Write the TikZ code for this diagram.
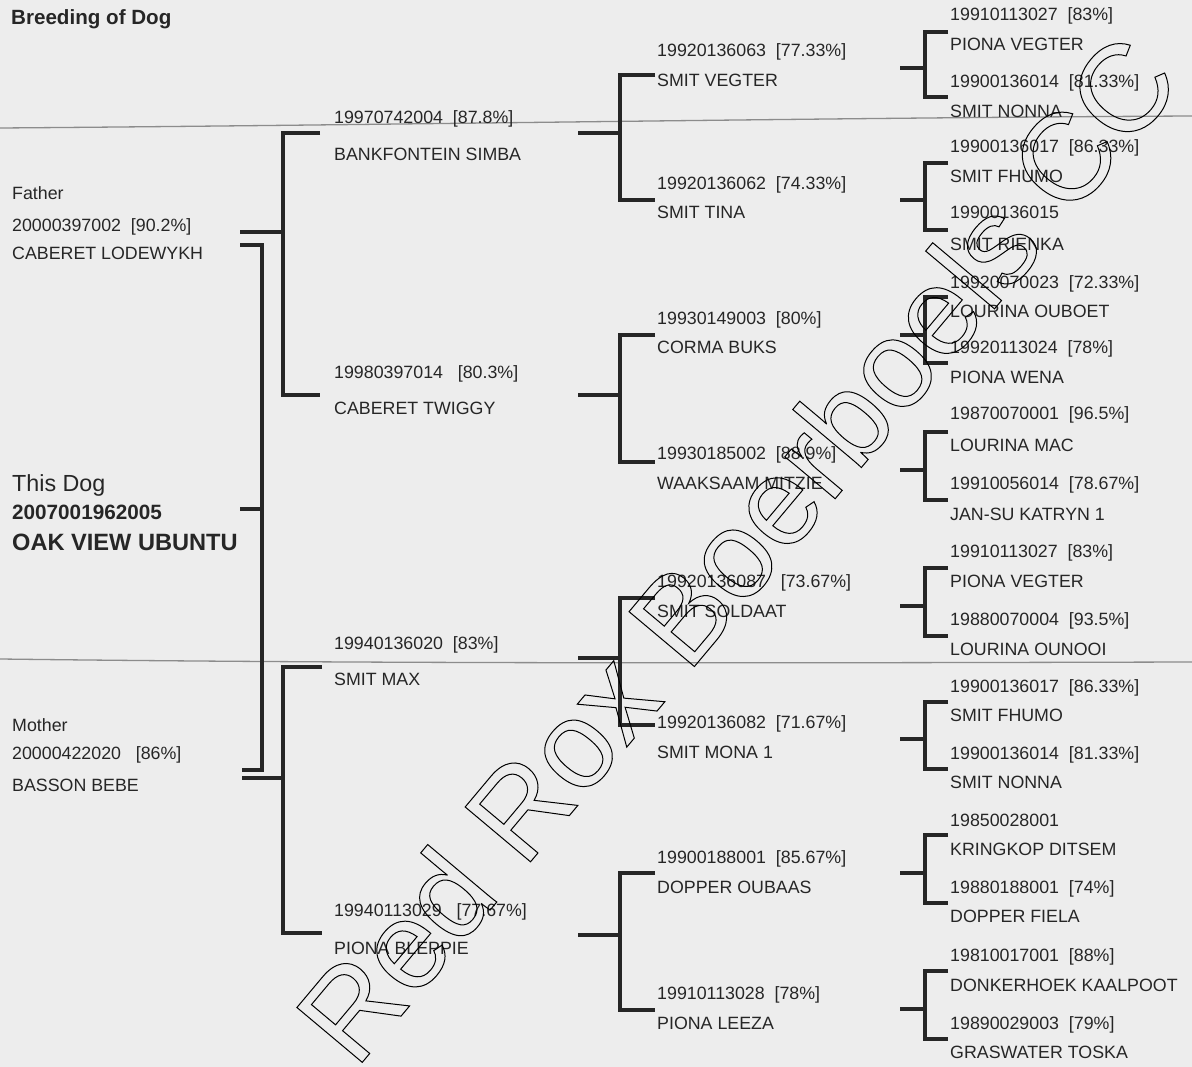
\documentclass[tikz,border=0pt]{standalone}
\usepackage{fontspec}
\setmainfont{Liberation Sans}
\definecolor{ink}{HTML}{262626}
\definecolor{paper}{HTML}{EDEDED}
\definecolor{fold}{HTML}{8C8C8C}
% outlined letters for the stamp across the sheet
\newcommand{\hollow}[1]{\special{pdf:literal direct 1 Tr 1 w}#1\special{pdf:literal direct 0 Tr}}

\begin{document}
\begin{tikzpicture}[x=1pt,y=-1pt,
  brk/.style={draw=ink,line width=3.8pt},
  txt/.style={anchor=base west,inner sep=0pt,text=ink,font=\fontsize{17.8}{20}\selectfont},
  ttl/.style={txt,font=\fontsize{20.6}{22}\selectfont\bfseries},
  dogname/.style={txt,font=\fontsize{23.3}{26}\selectfont},
  dognum/.style={txt,font=\fontsize{20.7}{23}\selectfont\bfseries},
  dogbig/.style={txt,font=\fontsize{23.6}{26}\selectfont\bfseries},
  wmark/.style={inner sep=0pt,text=black,font=\fontsize{124}{126}\selectfont},
  foldline/.style={draw=fold,line width=1.3pt}]
\fill[paper] (0,0) rectangle (1192,1067);
\useasboundingbox (0,0) rectangle (1192,1067);
\draw[foldline] (0,128) .. controls (400,125) and (800,118) .. (1192,116);
\draw[foldline] (0,659) .. controls (400,664) and (800,663) .. (1192,662);

\node[ttl] (title) at (11,25) {Breeding of Dog};

% first column
\node[txt] (fatherlbl) at (12,200) {Father};
\node[txt] (fathernum) at (12,232) {20000397002\ \ [90.2\%]};
\node[txt] (father) at (12,260) {CABERET LODEWYKH};
\node[dogname] (dogbl) at (12,491) {This Dog};
\node[dognum] (dognum) at (12,519) {2007001962005};
\node[dogbig] (dog) at (12,550) {OAK VIEW UBUNTU};
\node[txt] (motherlbl) at (12,731) {Mother};
\node[txt] (mothernum) at (12,759) {20000422020\ \ \ [86\%]};
\node[txt] (mother) at (12,791) {BASSON BEBE};

% second column
\node[txt] (simbanum) at (334,124) {19970742004\ \ [87.8\%]};
\node[txt] (simba) at (334,161) {BANKFONTEIN SIMBA};
\node[txt] (twiggynum) at (334,378) {19980397014\ \ \ [80.3\%]};
\node[txt] (twiggy) at (334,414) {CABERET TWIGGY};
\node[txt] (maxnum) at (334,649) {19940136020\ \ [83\%]};
\node[txt] (max) at (334,685) {SMIT MAX};
\node[txt] (bleppienum) at (334,916) {19940113029\ \ \ [77.67\%]};
\node[txt] (bleppie) at (334,954) {PIONA BLEPPIE};

% third column
\node[txt] (vegternum) at (657,57) {19920136063\ \ [77.33\%]};
\node[txt] (vegter) at (657,87) {SMIT VEGTER};
\node[txt] (tinanum) at (657,190) {19920136062\ \ [74.33\%]};
\node[txt] (tina) at (657,219) {SMIT TINA};
\node[txt] (buksnum) at (657,325) {19930149003\ \ [80\%]};
\node[txt] (buks) at (657,354) {CORMA BUKS};
\node[txt] (mitzienum) at (657,459) {19930185002\ \ [88.9\%]};
\node[txt] (mitzie) at (657,489) {WAAKSAAM MITZIE};
\node[txt] (soldaatnum) at (657,587) {19920136087\ \ \ [73.67\%]};
\node[txt] (soldaat) at (657,617) {SMIT SOLDAAT};
\node[txt] (monanum) at (657,728) {19920136082\ \ [71.67\%]};
\node[txt] (mona) at (657,758) {SMIT MONA 1};
\node[txt] (oubaasnum) at (657,863) {19900188001\ \ [85.67\%]};
\node[txt] (oubaas) at (657,893) {DOPPER OUBAAS};
\node[txt] (leezanum) at (657,999) {19910113028\ \ [78\%]};
\node[txt] (leeza) at (657,1029) {PIONA LEEZA};

% fourth column
\node[txt] (pvegternum) at (950,21) {19910113027\ \ [83\%]};
\node[txt] (pvegter) at (950,51) {PIONA VEGTER};
\node[txt] (nonnanum) at (950,88) {19900136014\ \ [81.33\%]};
\node[txt] (nonna) at (950,118) {SMIT NONNA};
\node[txt] (fhumonum) at (950,153) {19900136017\ \ [86.33\%]};
\node[txt] (fhumo) at (950,183) {SMIT FHUMO};
\node[txt] (rienkanum) at (950,219) {19900136015};
\node[txt] (rienka) at (950,251) {SMIT RIENKA};
\node[txt] (ouboetnum) at (950,289) {19920070023\ \ [72.33\%]};
\node[txt] (ouboet) at (950,318) {LOURINA OUBOET};
\node[txt] (wenanum) at (950,354) {19920113024\ \ [78\%]};
\node[txt] (wena) at (950,384) {PIONA WENA};
\node[txt] (macnum) at (950,419) {19870070001\ \ [96.5\%]};
\node[txt] (mac) at (950,451) {LOURINA MAC};
\node[txt] (katrynnum) at (950,489) {19910056014\ \ [78.67\%]};
\node[txt] (katryn) at (950,520) {JAN-SU KATRYN 1};
\node[txt] (pvegterbnum) at (950,557) {19910113027\ \ [83\%]};
\node[txt] (pvegterb) at (950,587) {PIONA VEGTER};
\node[txt] (ounooinum) at (950,625) {19880070004\ \ [93.5\%]};
\node[txt] (ounooi) at (950,655) {LOURINA OUNOOI};
\node[txt] (fhumobnum) at (950,692) {19900136017\ \ [86.33\%]};
\node[txt] (fhumob) at (950,721) {SMIT FHUMO};
\node[txt] (nonnabnum) at (950,759) {19900136014\ \ [81.33\%]};
\node[txt] (nonnab) at (950,788) {SMIT NONNA};
\node[txt] (ditsemnum) at (950,826) {19850028001};
\node[txt] (ditsem) at (950,855) {KRINGKOP DITSEM};
\node[txt] (fielanum) at (950,893) {19880188001\ \ [74\%]};
\node[txt] (fiela) at (950,922) {DOPPER FIELA};
\node[txt] (kaalpootnum) at (950,961) {19810017001\ \ [88\%]};
\node[txt] (kaalpoot) at (950,991) {DONKERHOEK KAALPOOT};
\node[txt] (toskanum) at (950,1029) {19890029003\ \ [79\%]};
\node[txt] (toska) at (950,1058) {GRASWATER TOSKA};

% bracket ends
\coordinate (dogT) at (240,245);
\coordinate (dogB) at (242,770);
\coordinate (dogM) at (240,509);
\coordinate (fatherT) at (320,133);
\coordinate (fatherB) at (320,395);
\coordinate (fatherM) at (240,232);
\coordinate (motherT) at (322,667);
\coordinate (motherB) at (322,933);
\coordinate (motherM) at (242,778);
\coordinate (simbaT) at (655,75);
\coordinate (simbaB) at (655,200);
\coordinate (simbaM) at (578,133);
\coordinate (twiggyT) at (655,335);
\coordinate (twiggyB) at (655,462);
\coordinate (twiggyM) at (578,395);
\coordinate (maxT) at (655,598);
\coordinate (maxB) at (655,725);
\coordinate (maxM) at (578,658);
\coordinate (bleppieT) at (655,873);
\coordinate (bleppieB) at (655,1010);
\coordinate (bleppieM) at (578,935);
\coordinate (vegterT) at (948,32);
\coordinate (vegterB) at (948,97);
\coordinate (vegterM) at (900,68);
\coordinate (tinaT) at (948,163);
\coordinate (tinaB) at (948,230);
\coordinate (tinaM) at (900,200);
\coordinate (buksT) at (948,297);
\coordinate (buksB) at (948,363);
\coordinate (buksM) at (900,335);
\coordinate (mitzieT) at (948,432);
\coordinate (mitzieB) at (948,500);
\coordinate (mitzieM) at (900,470);
\coordinate (soldaatT) at (948,568);
\coordinate (soldaatB) at (948,636);
\coordinate (soldaatM) at (900,606);
\coordinate (monaT) at (948,702);
\coordinate (monaB) at (948,769);
\coordinate (monaM) at (900,739);
\coordinate (oubaasT) at (948,835);
\coordinate (oubaasB) at (948,903);
\coordinate (oubaasM) at (900,873);
\coordinate (leezaT) at (948,971);
\coordinate (leezaB) at (948,1039);
\coordinate (leezaM) at (900,1009);

% brackets
\draw[brk] (dogT) -- ++(22,0) |- (dogB);
\draw[brk] (dogM) -- ++(22,0);
\draw[brk] (fatherT) -- ++(-37,0) |- (fatherB);
\draw[brk] (fatherM) -- ++(43,0);
\draw[brk] (motherT) -- ++(-39,0) |- (motherB);
\draw[brk] (motherM) -- ++(41,0);
\draw[brk] (simbaT) -- ++(-35,0) |- (simbaB);
\draw[brk] (simbaM) -- ++(42,0);
\draw[brk] (twiggyT) -- ++(-35,0) |- (twiggyB);
\draw[brk] (twiggyM) -- ++(42,0);
\draw[brk] (maxT) -- ++(-35,0) |- (maxB);
\draw[brk] (maxM) -- ++(42,0);
\draw[brk] (bleppieT) -- ++(-35,0) |- (bleppieB);
\draw[brk] (bleppieM) -- ++(42,0);
\draw[brk] (vegterT) -- ++(-23,0) |- (vegterB);
\draw[brk] (vegterM) -- ++(25,0);
\draw[brk] (tinaT) -- ++(-23,0) |- (tinaB);
\draw[brk] (tinaM) -- ++(25,0);
\draw[brk] (buksT) -- ++(-23,0) |- (buksB);
\draw[brk] (buksM) -- ++(25,0);
\draw[brk] (mitzieT) -- ++(-23,0) |- (mitzieB);
\draw[brk] (mitzieM) -- ++(25,0);
\draw[brk] (soldaatT) -- ++(-23,0) |- (soldaatB);
\draw[brk] (soldaatM) -- ++(25,0);
\draw[brk] (monaT) -- ++(-23,0) |- (monaB);
\draw[brk] (monaM) -- ++(25,0);
\draw[brk] (oubaasT) -- ++(-23,0) |- (oubaasB);
\draw[brk] (oubaasM) -- ++(25,0);
\draw[brk] (leezaT) -- ++(-23,0) |- (leezaB);
\draw[brk] (leezaM) -- ++(25,0);

% stamp
\node[wmark,rotate=50] (stamp) at (736,548) {\hollow{Red Rox Boerboels CC}};
\end{tikzpicture}
\end{document}
